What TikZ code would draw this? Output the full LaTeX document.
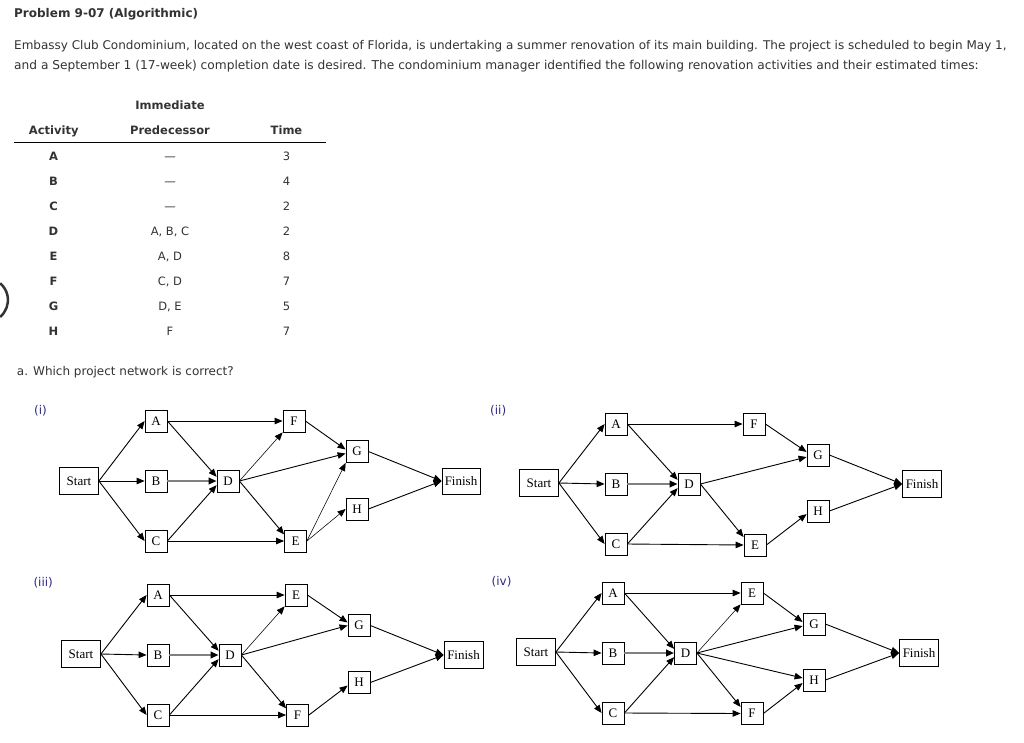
\documentclass[tikz,border=0pt]{standalone}
\usepackage{fontspec}
\setmainfont{DejaVu Sans}
\newfontfamily\boxfont{Liberation Serif}
\usetikzlibrary{arrows.meta}
\definecolor{txt}{RGB}{51,51,51}
\definecolor{lbl}{RGB}{45,45,135}
\definecolor{bline}{RGB}{128,128,128}
\begin{document}
\begin{tikzpicture}[x=1pt,y=-1pt,
  box/.style={draw=black, line width=0.8pt, fill=white, minimum width=22pt, minimum height=22pt, inner sep=0pt, font=\boxfont\fontsize{13}{15}\selectfont},
  wide/.style={box, minimum width=39pt, minimum height=27pt},
  edge/.style={line width=0.9pt, -{Triangle[length=8pt,width=6.5pt]}},
  thinedge/.style={edge, line width=0.55pt},
  gedge/.style={edge, draw=bline, line width=2pt, -{Triangle[length=8pt,width=6.5pt,color=black]}},
  body/.style={anchor=base west, inner sep=0pt, text=txt, font=\fontsize{12}{14}\selectfont},
  cell/.style={anchor=base, inner sep=0pt, text=txt, font=\fontsize{11.5}{13}\selectfont},
  hcell/.style={cell, font=\bfseries\fontsize{11.5}{13}\selectfont},
  netlabel/.style={anchor=base west, inner sep=0pt, text=lbl, font=\fontsize{12}{14}\selectfont},
]
\useasboundingbox[fill=white] (0,0) rectangle (1024,742);

% ---------- text ----------
\node[body, font=\bfseries\fontsize{12}{14}\selectfont] (title) at (14,17) {Problem 9-07 (Algorithmic)};
\node[body] (line1) at (14,49) {Embassy Club Condominium, located on the west coast of Florida, is undertaking a summer renovation of its main building. The project is scheduled to begin May 1,};
\node[body, font=\fontsize{12.2}{14}\selectfont] (line2) at (14,69) {and a September 1 (17-week) completion date is desired. The condominium manager identified the following renovation activities and their estimated times:};

% ---------- table ----------
\node[hcell] (himm) at (170,109) {Immediate};
\node[hcell] (hact) at (53.7,134) {Activity};
\node[hcell] (hpred) at (170,134) {Predecessor};
\node[hcell] (htime) at (286.5,134) {Time};
\draw[line width=1pt, black] (14,142.3) coordinate (rl) -- (326,142.3) coordinate (rr);
\foreach \a/\p/\t [count=\i] in {A/\textemdash/3, B/\textemdash/4, C/\textemdash/2, D/{A, B, C}/2, E/{A, D}/8, F/{C, D}/7, G/{D, E}/5, H/{F}/7}{
  \node[hcell] (act\i) at (53.5,135+25*\i) {\a};
  \node[cell] (pred\i) at (170,135+25*\i) {\p};
  \node[cell] (time\i) at (286.5,135+25*\i) {\t};
}
\draw[line width=2.5pt, txt] (0.1,316.9) arc[start angle=50, end angle=-50, radius=22];

\node[body] (qa) at (16.7,375) {a. Which project network is correct?};

% ---------- labels ----------
\node[netlabel] (li) at (34,414) {(i)};
\node[netlabel] (lii) at (490,414) {(ii)};
\node[netlabel] (liii) at (33.3,586) {(iii)};
\node[netlabel] (liv) at (491.5,585) {(iv)};

% ---------- network (i) ----------
\node[wide] (iS) at (79,481) {Start};
\node[box] (iA) at (156,421) {A};
\node[box] (iB) at (156,481) {B};
\node[box] (iC) at (156,541) {C};
\node[box] (iD) at (228,481) {D};
\node[box] (iF) at (294,421) {F};
\node[box] (iG) at (357,451.5) {G};
\node[box] (iH) at (357,509) {H};
\node[box] (iE) at (295.5,541) {E};
\node[wide, minimum width=38pt, minimum height=26pt] (iFin) at (461,481) {Finish};
\draw[edge] (iS.east) -- (iA.west);
\draw[edge] (iS.east) -- (iB.west);
\draw[edge] (iS.east) -- (iC.west);
\draw[edge] (iA.east) -- (iD.160);
\draw[gedge] (iB.east) -- (iD.west);
\draw[edge] (iC.east) -- (iD.200);
\draw[edge] (iA.east) -- (iF.west);
\draw[thinedge] (iD.east) -- (iF.south west);
\draw[edge] (iD.east) -- (iG.190);
\draw[edge] (iD.east) -- (iE.150);
\draw[edge] (iC.east) -- (iE.west);
\draw[edge] (iF.east) -- (iG.170);
\draw[thinedge] (iE.east) -- (iG.south west);
\draw[thinedge] (iE.east) -- (iH.west);
\draw[edge] (iG.east) -- (iFin.west);
\draw[edge] (iH.east) -- (iFin.west);

% ---------- network (ii) ----------
\node[wide] (iiS) at (539,483) {Start};
\node[box] (iiA) at (616,424) {A};
\node[box] (iiB) at (616,484) {B};
\node[box] (iiC) at (616,544) {C};
\node[box] (iiD) at (689,484) {D};
\node[box] (iiF) at (754,424) {F};
\node[box] (iiG) at (818,455) {G};
\node[box] (iiH) at (818,511) {H};
\node[box] (iiE) at (755,545) {E};
\node[wide, minimum width=39pt, minimum height=27pt] (iiFin) at (922,484) {Finish};
\draw[edge] (iiS.east) -- (iiA.west);
\draw[edge] (iiS.east) -- (iiB.west);
\draw[edge] (iiS.east) -- (iiC.west);
\draw[edge] (iiA.east) -- (iiD.160);
\draw[gedge] (iiB.east) -- (iiD.west);
\draw[edge] (iiC.east) -- (iiD.200);
\draw[edge] (iiA.east) -- (iiF.west);
\draw[edge] (iiD.east) -- (iiG.190);
\draw[edge] (iiD.east) -- (iiE.145);
\draw[edge] (iiC.east) -- (iiE.west);
\draw[edge] (iiF.east) -- (iiG.165);
\draw[edge] (iiE.east) -- (iiH.195);
\draw[edge] (iiG.east) -- (iiFin.west);
\draw[edge] (iiH.east) -- (iiFin.west);

% ---------- network (iii) ----------
\node[wide] (iiiS) at (81,654) {Start};
\node[box] (iiiA) at (158,595) {A};
\node[box] (iiiB) at (158,655) {B};
\node[box] (iiiC) at (158,715) {C};
\node[box] (iiiD) at (230,655) {D};
\node[box] (iiiE) at (296,595) {E};
\node[box] (iiiG) at (359,625.5) {G};
\node[box] (iiiH) at (359,682.5) {H};
\node[box] (iiiF) at (297.5,715) {F};
\node[wide, minimum width=39pt, minimum height=27pt] (iiiFin) at (463.5,655) {Finish};
\draw[edge] (iiiS.east) -- (iiiA.west);
\draw[edge] (iiiS.east) -- (iiiB.west);
\draw[edge] (iiiS.east) -- (iiiC.west);
\draw[edge] (iiiA.east) -- (iiiD.160);
\draw[gedge] (iiiB.east) -- (iiiD.west);
\draw[edge] (iiiC.east) -- (iiiD.200);
\draw[edge] (iiiA.east) -- (iiiE.west);
\draw[thinedge] (iiiD.east) -- (iiiE.south west);
\draw[edge] (iiiD.east) -- (iiiG.west);
\draw[edge] (iiiD.east) -- (iiiF.150);
\draw[edge] (iiiC.east) -- (iiiF.west);
\draw[edge] (iiiE.east) -- (iiiG.165);
\draw[edge] (iiiF.east) -- (iiiH.195);
\draw[edge] (iiiG.east) -- (iiiFin.west);
\draw[edge] (iiiH.east) -- (iiiFin.west);

% ---------- network (iv) ----------
\node[wide] (ivS) at (536,652) {Start};
\node[box] (ivA) at (613,593) {A};
\node[box] (ivB) at (613,653) {B};
\node[box] (ivC) at (613,713) {C};
\node[box] (ivD) at (685.5,653) {D};
\node[box] (ivE) at (752,593) {E};
\node[box] (ivG) at (814,624) {G};
\node[box] (ivH) at (814,680) {H};
\node[box] (ivF) at (752,713.5) {F};
\node[wide, minimum width=39pt, minimum height=27pt] (ivFin) at (919,653) {Finish};
\draw[edge] (ivS.east) -- (ivA.west);
\draw[edge] (ivS.east) -- (ivB.west);
\draw[edge] (ivS.east) -- (ivC.west);
\draw[edge] (ivA.east) -- (ivD.160);
\draw[gedge] (ivB.east) -- (ivD.west);
\draw[edge] (ivC.east) -- (ivD.200);
\draw[edge] (ivA.east) -- (ivE.west);
\draw[thinedge] (ivD.east) -- (ivE.south west);
\draw[edge] (ivD.east) -- (ivG.190);
\draw[edge] (ivD.east) -- (ivH.170);
\draw[edge] (ivD.east) -- (ivF.150);
\draw[edge] (ivC.east) -- (ivF.west);
\draw[edge] (ivE.east) -- (ivG.170);
\draw[edge] (ivF.east) -- (ivH.195);
\draw[edge] (ivG.east) -- (ivFin.west);
\draw[edge] (ivH.east) -- (ivFin.west);
\end{tikzpicture}
\end{document}
